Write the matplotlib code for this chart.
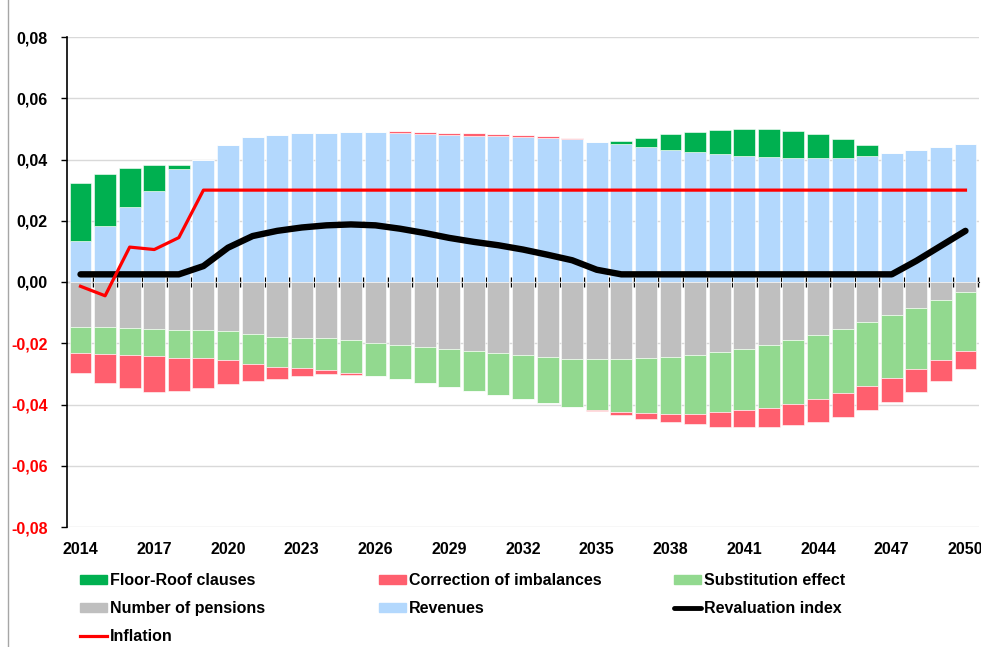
import numpy as np
import matplotlib
matplotlib.use("Agg")
import matplotlib.pyplot as plt
from matplotlib.lines import Line2D
from matplotlib.patches import Patch

plt.rcParams['font.family'] = ['Liberation Sans', 'DejaVu Sans']
plt.rcParams['font.weight'] = 'bold'

years = list(range(2014, 2051))

revenues = [0.0134, 0.0184, 0.0245, 0.0297, 0.0368, 0.0398, 0.0446, 0.0472, 0.0480, 0.0485,
            0.0487, 0.0491, 0.0491, 0.0488, 0.0483, 0.0479, 0.0478, 0.0477, 0.0472, 0.0470,
            0.0466, 0.0457, 0.0449, 0.0440, 0.0431, 0.0424, 0.0418, 0.0413, 0.0407, 0.0405,
            0.0404, 0.0404, 0.0411, 0.0421, 0.0431, 0.0441, 0.0452]

floor_roof = [0.0188, 0.0170, 0.0126, 0.0086, 0.0014, 0, 0, 0, 0, 0,
              0, 0, 0, 0, 0, 0, 0, 0, 0, 0,
              0, 0, 0.0010, 0.0031, 0.0051, 0.0067, 0.0078, 0.0087, 0.0092, 0.0088,
              0.0079, 0.0063, 0.0035, 0, 0, 0, 0]

correction = [-0.0065, -0.0094, -0.0108, -0.0115, -0.0110, -0.0097, -0.0079, -0.0056, -0.0039, -0.0026,
              -0.0014, -0.0007, 0.0000, 0.0004, 0.0007, 0.0006, 0.0007, 0.0005, 0.0007, 0.0006,
              0.0003, -0.0003, -0.0010, -0.0017, -0.0026, -0.0035, -0.0047, -0.0054, -0.0062, -0.0071,
              -0.0077, -0.0080, -0.0080, -0.0081, -0.0075, -0.0068, -0.0061]

substitution = [-0.0086, -0.0087, -0.0088, -0.0089, -0.0091, -0.0091, -0.0094, -0.0096, -0.0098, -0.0099,
                -0.0103, -0.0106, -0.0108, -0.0112, -0.0116, -0.0122, -0.0130, -0.0136, -0.0143, -0.0149,
                -0.0156, -0.0166, -0.0172, -0.0180, -0.0187, -0.0193, -0.0197, -0.0201, -0.0205, -0.0207,
                -0.0209, -0.0209, -0.0207, -0.0203, -0.0201, -0.0196, -0.0190]

pensions = [-0.0146, -0.0148, -0.0149, -0.0154, -0.0156, -0.0158, -0.0161, -0.0171, -0.0179, -0.0182,
            -0.0184, -0.0190, -0.0198, -0.0205, -0.0213, -0.0220, -0.0226, -0.0233, -0.0239, -0.0246,
            -0.0251, -0.0252, -0.0252, -0.0249, -0.0244, -0.0237, -0.0228, -0.0218, -0.0205, -0.0190,
            -0.0172, -0.0152, -0.0132, -0.0109, -0.0084, -0.0060, -0.0034]

inflation = [-0.0014, -0.0045, 0.0114, 0.0106, 0.0145] + [0.030] * 32

revaluation = [0.0025, 0.0025, 0.0025, 0.0025, 0.0025, 0.0052, 0.0112, 0.0150, 0.0167, 0.0178,
               0.0185, 0.0188, 0.0185, 0.0174, 0.0160, 0.0144, 0.0131, 0.0120, 0.0106, 0.0089,
               0.0071, 0.0040, 0.0025, 0.0025, 0.0025, 0.0025, 0.0025, 0.0025, 0.0025, 0.0025,
               0.0025, 0.0025, 0.0025, 0.0025, 0.0069, 0.0118, 0.0167]

ytick_vals = [-0.08, -0.06, -0.04, -0.02, 0.0, 0.02, 0.04, 0.06, 0.08]
ytick_labels = ['-0,08', '-0,06', '-0,04', '-0,02', '0,00', '0,02', '0,04', '0,06', '0,08']

C_FLOOR = '#00B050'
C_CORR = '#FF5F6E'
C_SUBST = '#92D98F'
C_PENS = '#BFBFBF'
C_REV = '#B3D8FD'

fig = plt.figure(figsize=(9.81, 6.47), dpi=100)
ax = fig.add_axes([67 / 981, 1 - 527 / 647, (979 - 67) / 981, (527 - 37) / 647])

x = np.arange(len(years))
rev = np.array(revenues)
fr = np.array(floor_roof)
corr = np.array(correction)
sub = np.array(substitution)
pen = np.array(pensions)
corr_pos = np.where(corr > 0, corr, 0)
corr_neg = np.where(corr < 0, corr, 0)

w = 0.89
kw = dict(width=w, edgecolor='white', linewidth=0.4, zorder=2)
ax.bar(x, rev, color=C_REV, **kw)
ax.bar(x, corr_pos, bottom=rev, color=C_CORR, **kw)
ax.bar(x, fr, bottom=rev + corr_pos, color=C_FLOOR, **kw)
ax.bar(x, pen, color=C_PENS, **kw)
ax.bar(x, sub, bottom=pen, color=C_SUBST, **kw)
ax.bar(x, corr_neg, bottom=pen + sub, color=C_CORR, **kw)

ax.plot(x, revaluation, color='black', lw=4.6, solid_capstyle='round', solid_joinstyle='round', zorder=4)
ax.plot(x, inflation, color='#FF0000', lw=2.3, zorder=5)

ax.set_xlim(-0.55, len(years) - 0.45)
ax.set_ylim(-0.08, 0.08)
ax.set_yticks(ytick_vals)
ax.set_yticklabels(ytick_labels, fontsize=11.5, fontweight='bold')
for lbl, v in zip(ax.get_yticklabels(), ytick_vals):
    lbl.set_color('#FF0000' if v < 0 else 'black')
ax.tick_params(axis='y', direction='out', length=4, width=1, pad=10)
ax.yaxis.grid(True, color='#D9D9D9', lw=1, zorder=0)
ax.set_axisbelow(True)

ax.set_xticks(x[::3])
ax.set_xticklabels([str(y) for y in years[::3]], fontsize=11.5, fontweight='bold')
ax.tick_params(axis='x', length=0, pad=11)

for s in ['top', 'right', 'bottom']:
    ax.spines[s].set_visible(False)
ax.spines['left'].set_linewidth(1.2)

zero_ax = ax.secondary_xaxis(0.5)
zero_ax.set_xticks(np.arange(0.5, len(years) - 0.4, 1.0))
zero_ax.tick_params(direction='inout', length=7, width=1, labelbottom=False, labeltop=False)
zero_ax.spines['bottom'].set_linewidth(1.2)

# legend in three columns
lfont = dict(size=11.5, weight='bold')
common = dict(frameon=False, prop=lfont, handlelength=1.7, handleheight=0.55,
              handletextpad=0.15, labelspacing=0.82, borderpad=0, borderaxespad=0,
              loc='upper left')
col1 = [Patch(color=C_FLOOR), Patch(color=C_PENS), Line2D([], [], color='#FF0000', lw=2.3)]
col2 = [Patch(color=C_CORR), Patch(color=C_REV)]
col3 = [Patch(color=C_SUBST), Line2D([], [], color='black', lw=3.5, solid_capstyle='round')]
top = 1 - 573 / 647
fig.legend(col1, ['Floor-Roof clauses', 'Number of pensions', 'Inflation'],
           bbox_to_anchor=(80 / 981, top), **common)
fig.legend(col2, ['Correction of imbalances', 'Revenues'],
           bbox_to_anchor=(379 / 981, top), **common)
fig.legend(col3, ['Substitution effect', 'Revaluation index'],
           bbox_to_anchor=(674 / 981, top), **common)

fig.add_artist(Line2D([8 / 981, 8 / 981], [0, 1], transform=fig.transFigure, color='#A6A6A6', lw=1))

fig.savefig('out.png', dpi=100)
